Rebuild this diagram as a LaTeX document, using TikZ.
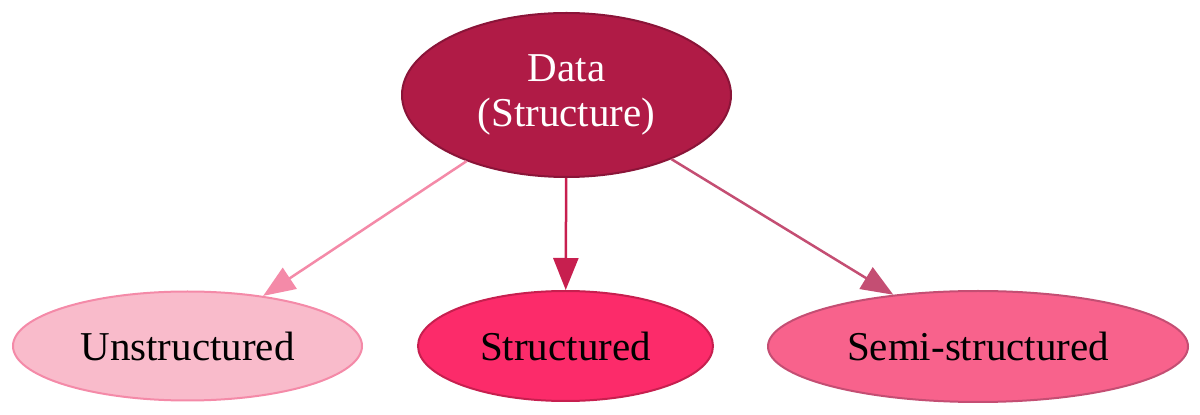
\documentclass[tikz,border=0pt]{standalone}
\usepackage{fontspec}
\setmainfont{Liberation Serif}
\usetikzlibrary{shapes.geometric,arrows.meta}

\definecolor{datafill}{HTML}{B01B46}
\definecolor{dataline}{HTML}{8A1438}
\definecolor{unfill}{HTML}{F9BBCB}
\definecolor{unline}{HTML}{F48AA8}
\definecolor{stfill}{HTML}{FC2B6A}
\definecolor{stline}{HTML}{C71F4F}
\definecolor{semifill}{HTML}{F8628C}
\definecolor{semiline}{HTML}{C44E73}

\begin{document}
\begin{tikzpicture}[x=1pt,y=1pt,>={Triangle[length=32pt,width=25pt]},thick,
    main node/.style={ellipse,draw,line width=2pt,inner sep=0pt,align=center,font=\fontsize{41}{45}\selectfont},
    edge/.style={->,line width=2.5pt}]

            \useasboundingbox (0,0) rectangle (1200,415);

            \node[main node, fill=datafill, draw=dataline, text=white, minimum width=329pt, minimum height=164pt] (1) at (566.5,320) {Data\\(Structure)};
            \node[main node, fill=unfill, draw=unline, minimum width=349pt, minimum height=109pt] (2) at (187.5,69) {Unstructured};
            \node[main node, fill=stfill, draw=stline, minimum width=295pt, minimum height=110pt] (3) at (565.5,69) {Structured};
            \node[main node, fill=semifill, draw=semiline, minimum width=420pt, minimum height=111pt] (4) at (978,68.5) {Semi-structured};

            \draw[edge, unline] (1) to (2);
            \draw[edge, stline] (1) to (3);
            \draw[edge, semiline] (1) to (4);

        \end{tikzpicture}
\end{document}
